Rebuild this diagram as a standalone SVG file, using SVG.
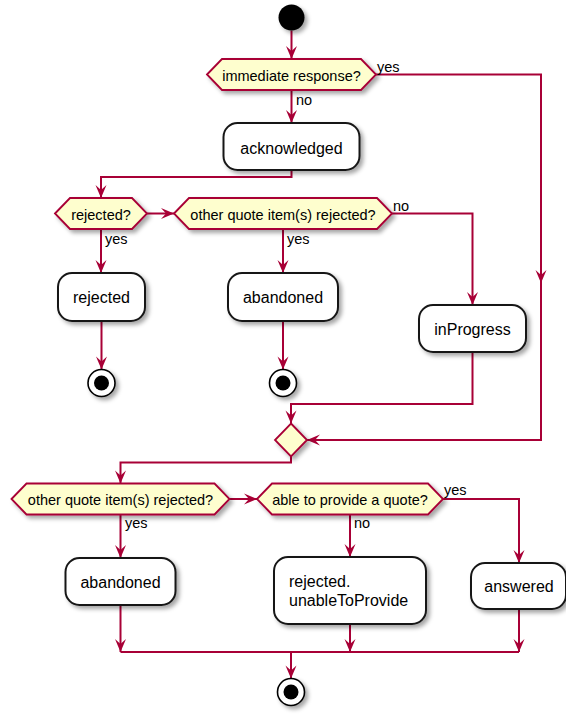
<svg xmlns="http://www.w3.org/2000/svg" width="566" height="715" viewBox="0 0 566 715">
<defs>
  <filter id="shadow" x="-20%" y="-30%" width="150%" height="170%">
    <feDropShadow dx="3" dy="3" stdDeviation="2" flood-color="#000000" flood-opacity="0.35"/>
  </filter>
  <marker id="arrow" markerUnits="userSpaceOnUse" viewBox="-14 -7 15 14" markerWidth="15" markerHeight="14" refX="0" refY="0" orient="auto">
    <path d="M0,0 L-13,-5.5 L-8,0 L-13,5.5 Z" fill="#A80036"/>
  </marker>
  <style>
    .edge{fill:none;stroke:#A80036;stroke-width:2}
    .arr{marker-end:url(#arrow)}
    .dec{fill:#FEFECE;stroke:#A80036;stroke-width:1.8;filter:url(#shadow)}
    .act{fill:#FFFFFF;stroke:#181818;stroke-width:2;filter:url(#shadow)}
    .start{fill:#000000;filter:url(#shadow)}
    .stopo{fill:#FFFFFF;stroke:#000000;stroke-width:1.6;filter:url(#shadow)}
    .stopi{fill:#000000}
    text{font-family:"Liberation Sans",Arial,sans-serif;fill:#000000}
    .t{font-size:16px;text-anchor:middle}
    .tl{font-size:16px}
    .d{font-size:14.5px;text-anchor:middle}
    .lbl{font-size:14.5px}
  </style>
</defs>

<!-- connectors -->
<g id="connectors">
  <path class="edge arr" d="M291.5,30.5 V59"/>
  <path class="edge arr" d="M291.5,90 V123"/>
  <path class="edge arr" d="M376,74.5 H541 V283"/>
  <path class="edge arr" d="M541,283 V440 H307"/>
  <path class="edge arr" d="M291.5,170 V177 H101 V198"/>
  <path class="edge arr" d="M147,213.5 H174"/>
  <path class="edge arr" d="M101,229 V273"/>
  <path class="edge arr" d="M283,229 V273"/>
  <path class="edge arr" d="M392,213.5 H472.5 V305"/>
  <path class="edge arr" d="M101.5,321 V369.5"/>
  <path class="edge arr" d="M283,321 V369.5"/>
  <path class="edge arr" d="M472.5,352 V404 H291 V423.5"/>
  <path class="edge arr" d="M291,456.5 V462.5 H120.5 V483.5"/>
  <path class="edge arr" d="M229.5,499 H257"/>
  <path class="edge arr" d="M120.5,514.5 V558"/>
  <path class="edge arr" d="M350,514.5 V557"/>
  <path class="edge arr" d="M443,499 H519 V563"/>
  <path class="edge arr" d="M120.5,605 V652"/>
  <path class="edge arr" d="M350,624 V652"/>
  <path class="edge arr" d="M519,609 V652"/>
  <path class="edge" d="M120.5,652 H519"/>
  <path class="edge arr" d="M291,652 V678.5"/>
  <!-- branch labels -->
  <text class="lbl" x="377" y="71.5">yes</text>
  <text class="lbl" x="296" y="104.5">no</text>
  <text class="lbl" x="105" y="243.5">yes</text>
  <text class="lbl" x="287" y="243.5">yes</text>
  <text class="lbl" x="393" y="210.5">no</text>
  <text class="lbl" x="125" y="528">yes</text>
  <text class="lbl" x="444" y="495">yes</text>
  <text class="lbl" x="354" y="528">no</text>
</g>

<g id="start">
  <circle class="start" cx="291.5" cy="17.5" r="13"/>
</g>

<g id="immediateResponse">
  <polygon class="dec" points="207,74.5 222,59 361,59 376,74.5 361,90 222,90"/>
  <text class="d" x="291.5" y="80.5">immediate response?</text>
</g>

<g id="acknowledged">
  <rect class="act" x="223.5" y="123" width="136" height="47" rx="14"/>
  <text class="t" x="291.5" y="153.5">acknowledged</text>
</g>

<g id="rejectedDecision">
  <polygon class="dec" points="55,213.5 70,198 132,198 147,213.5 132,229 70,229"/>
  <text class="d" x="101" y="219.5">rejected?</text>
</g>

<g id="otherRejectedDecision1">
  <polygon class="dec" points="174,213.5 189,198 377,198 392,213.5 377,229 189,229"/>
  <text class="d" x="283" y="219.5">other quote item(s) rejected?</text>
</g>

<g id="rejected">
  <rect class="act" x="58" y="273" width="87" height="48" rx="14"/>
  <text class="t" x="101.5" y="303">rejected</text>
</g>

<g id="stopRejected">
  <circle class="stopo" cx="101.5" cy="383" r="13.5"/>
  <circle class="stopi" cx="101.5" cy="383" r="7.5"/>
</g>

<g id="abandoned1">
  <rect class="act" x="228" y="273" width="110" height="48" rx="14"/>
  <text class="t" x="283" y="303">abandoned</text>
</g>

<g id="stopAbandoned">
  <circle class="stopo" cx="283" cy="383" r="13.5"/>
  <circle class="stopi" cx="283" cy="383" r="7.5"/>
</g>

<g id="inProgress">
  <rect class="act" x="419" y="305" width="107" height="47" rx="14"/>
  <text class="t" x="472.5" y="335">inProgress</text>
</g>

<g id="merge">
  <polygon class="dec" points="291,423.5 307,440 291,456.5 275,440"/>
</g>

<g id="otherRejectedDecision2">
  <polygon class="dec" points="11.5,499 26.5,483.5 214.5,483.5 229.5,499 214.5,514.5 26.5,514.5"/>
  <text class="d" x="120.5" y="505">other quote item(s) rejected?</text>
</g>

<g id="ableToProvide">
  <polygon class="dec" points="257,499 272,483.5 428,483.5 443,499 428,514.5 272,514.5"/>
  <text class="d" x="350" y="505">able to provide a quote?</text>
</g>

<g id="abandoned2">
  <rect class="act" x="65.5" y="558" width="110" height="47" rx="14"/>
  <text class="t" x="120.5" y="588">abandoned</text>
</g>

<g id="unableToProvide">
  <rect class="act" x="274" y="557" width="152" height="67" rx="14"/>
  <text class="tl" x="289" y="587">rejected.</text>
  <text class="tl" x="289" y="605.5">unableToProvide</text>
</g>

<g id="answered">
  <rect class="act" x="471" y="563" width="95" height="46" rx="14"/>
  <text class="t" x="519" y="592">answered</text>
</g>

<g id="stopEnd">
  <circle class="stopo" cx="291" cy="692" r="13.5"/>
  <circle class="stopi" cx="291" cy="692" r="7.5"/>
</g>
</svg>
